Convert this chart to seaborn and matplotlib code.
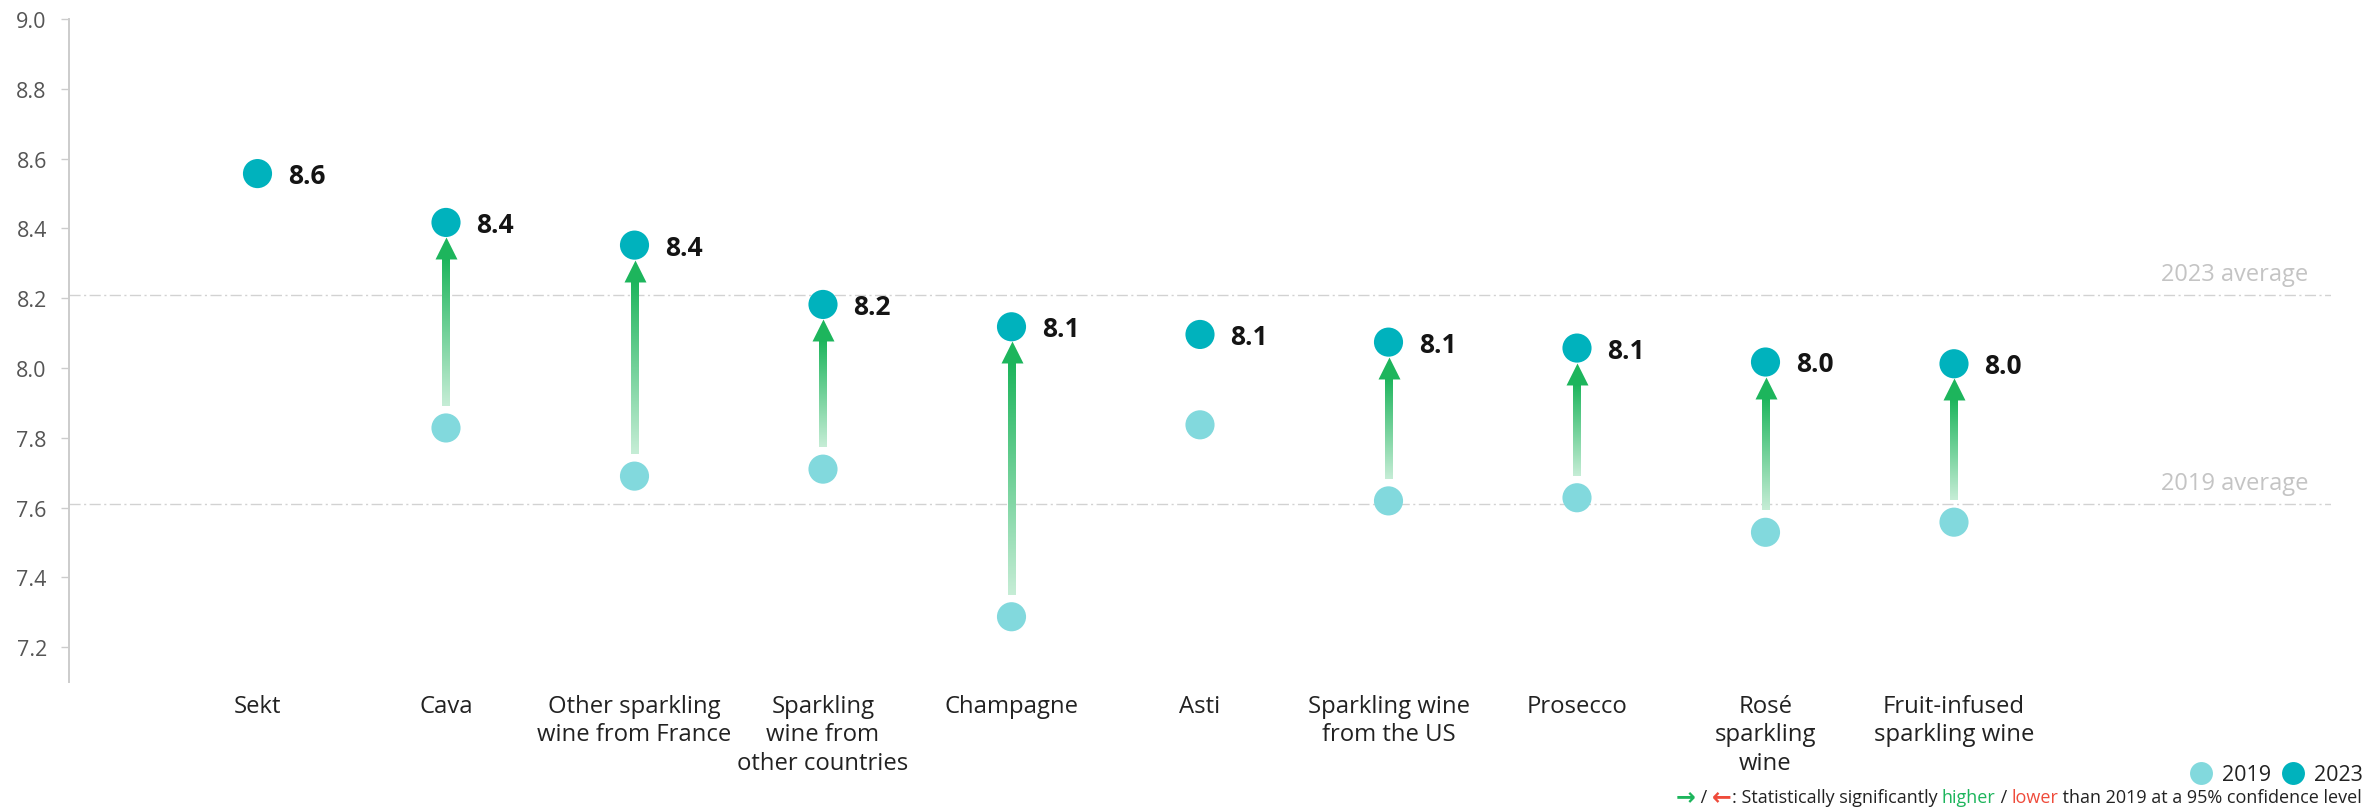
import numpy as np
import pandas as pd
import matplotlib
matplotlib.use("Agg")
import matplotlib.pyplot as plt
import matplotlib.colors as mcolors
from matplotlib.lines import Line2D
import seaborn as sns

# ---- data -------------------------------------------------------------
categories = [
    "Sekt",
    "Cava",
    "Other sparkling\nwine from France",
    "Sparkling\nwine from\nother countries",
    "Champagne",
    "Asti",
    "Sparkling wine\nfrom the US",
    "Prosecco",
    "Rosé\nsparkling\nwine",
    "Fruit-infused\nsparkling wine",
]
score_2019 = [np.nan, 7.828, 7.690, 7.710, 7.287, 7.837, 7.619, 7.628, 7.529, 7.558]
score_2023 = [8.557, 8.417, 8.352, 8.182, 8.118, 8.096, 8.074, 8.057, 8.017, 8.012]
significant = [False, True, True, True, True, False, True, True, True, True]
avg_2019 = 7.61
avg_2023 = 8.21
y_ticks = [7.2, 7.4, 7.6, 7.8, 8.0, 8.2, 8.4, 8.6, 8.8, 9.0]
years = ["2019", "2023"]

# ---- style ------------------------------------------------------------
C2019 = "#82D9DD"
C2023 = "#00B2BD"
GREEN = "#1DB55C"
GREEN_LIGHT = "#C6EDD6"
RED = "#EF4B3B"
GREY_LINE = "#D2D2D2"
DARK = "#222222"

sns.set_theme(style="white")
plt.rcParams["font.family"] = ["Open Sans", "DejaVu Sans"]

W, H = 2364, 812
fig = plt.figure(figsize=(W / 100, H / 100), dpi=100)
ax = fig.add_axes([69 / W, 1 - 683 / H, 2262 / W, 663 / H])

y_min, y_max = 7.1, 9.0
x_min, x_max = -1, 11

# long-format table for seaborn
df = pd.DataFrame({
    "category": categories * 2,
    "year": [years[1]] * len(categories) + [years[0]] * len(categories),
    "score": score_2023 + score_2019,
})
df = df.dropna().reset_index(drop=True)
df["category"] = pd.Categorical(df["category"], categories=categories, ordered=True)
df = df.sort_values(["category", "year"], kind="stable")
df["pos"] = df["category"].cat.codes

sns.scatterplot(
    data=df, x="pos", y="score", hue="year",
    palette={"2019": C2019, "2023": C2023},
    s=440, edgecolor="none", linewidth=0, legend=False, ax=ax, zorder=4,
)

ax.set_xlim(x_min, x_max)
ax.set_ylim(y_min, y_max)

px_y = ax.bbox.height / (y_max - y_min)   # pixels per data unit (y)
px_x = ax.bbox.width / (x_max - x_min)    # pixels per data unit (x)

# ---- change arrows with a fading shaft ---------------------------------
tri_up = [(-1, -1), (1, -1), (0, 1), (-1, -1)]
tri_down = [(-1, 1), (1, 1), (0, -1), (-1, 1)]
for i, (lo, hi, sig) in enumerate(zip(score_2019, score_2023, significant)):
    if not sig or np.isnan(lo):
        continue
    up = hi > lo
    sgn = 1 if up else -1
    strong = GREEN if up else RED
    light = GREEN_LIGHT if up else "#F8C9C4"
    tail = lo + sgn * 22 / px_y
    base = hi - sgn * 37 / px_y
    tip = hi - sgn * 14 / px_y
    grad = np.linspace(0, 1, 200)[:, None]
    c0 = np.array(mcolors.to_rgb(light))
    c1 = np.array(mcolors.to_rgb(strong))
    img = (c0 + (c1 - c0) * grad)[:, None, :]
    hw = 3.8 / px_x
    y0, y1 = (tail, base + sgn * 1 / px_y)
    ax.imshow(
        img if up else img[::-1],
        extent=(i - hw, i + hw, min(y0, y1), max(y0, y1)),
        origin="lower", aspect="auto", interpolation="bilinear", zorder=2,
    )
    ax.scatter([i], [(tip + base) / 2], marker=tri_up if up else tri_down,
               s=15.8 ** 2, color=strong, linewidths=0, zorder=3)

ax.set_xlim(x_min, x_max)
ax.set_ylim(y_min, y_max)

# ---- value labels -----------------------------------------------------
for i, v in enumerate(score_2023):
    ax.annotate(f"{v:.1f}", xy=(i, v), xytext=(22, -6.8), textcoords="offset points",
                ha="left", va="baseline", fontsize=19, fontweight="bold", color="#141414")

# ---- average reference lines -------------------------------------------
for val, label in [(avg_2023, "2023 average"), (avg_2019, "2019 average")]:
    ax.axhline(val, color=GREY_LINE, lw=1.0, ls=(0, (8, 2.5, 1.5, 2.5)), zorder=1)
    ax.annotate(label, xy=(1, val), xycoords=("axes fraction", "data"),
                xytext=(-16.5, 10.8), textcoords="offset points",
                ha="right", va="baseline", fontsize=17, color="#C4C4C4")

# ---- axes styling -------------------------------------------------------
sns.despine(ax=ax, bottom=True)
ax.spines["left"].set_color("#CCCCCC")
ax.spines["left"].set_linewidth(1.4)
ax.set_xticks(range(len(categories)))
ax.set_xticklabels(categories)
ax.set_yticks(y_ticks)
ax.set_yticklabels([f"{t:.1f}" for t in y_ticks])
ax.tick_params(axis="y", length=5.5, width=1, color="#CCCCCC", pad=10.5,
               labelsize=15.5, labelcolor="#555555", left=True)
ax.tick_params(axis="x", length=0, pad=8.5, labelsize=17.2, labelcolor=DARK)
for lab in ax.get_xticklabels():
    lab.set_linespacing(1.25)
ax.set_xlabel("")
ax.set_ylabel("")
ax.grid(False)

# ---- legend -------------------------------------------------------------
handles = [
    Line2D([], [], ls="none", marker="o", ms=16.5, mfc=C2019, mec="none"),
    Line2D([], [], ls="none", marker="o", ms=16.5, mfc=C2023, mec="none"),
]
leg = fig.legend(handles, years, loc="center right", bbox_to_anchor=(0.9995, 1 - 776 / H),
                 ncol=2, frameon=False, fontsize=15.5, handlelength=1.0,
                 handletextpad=0.45, columnspacing=0.55, borderpad=0, borderaxespad=0)
for t in leg.get_texts():
    t.set_color(DARK)

# ---- footnote with coloured parts (laid out right to left) -------------
parts = [
    ("→", GREEN, "bold", ["DejaVu Sans"], 17),
    (" / ", DARK, "normal", None, 13),
    ("←", RED, "bold", ["DejaVu Sans"], 17),
    (": Statistically significantly ", DARK, "normal", None, 13),
    ("higher", GREEN, "normal", None, 13),
    (" / ", DARK, "normal", None, 13),
    ("lower", RED, "normal", None, 13),
    (" than 2019 at a 95% confidence level", DARK, "normal", None, 13),
]
renderer = fig.canvas.get_renderer()
x_right = 2362.0
y_base = H - 803
for text, color, weight, fam, size in reversed(parts):
    kw = dict(color=color, fontweight=weight, fontsize=size, ha="right", va="baseline",
              transform=None)
    if fam:
        kw["family"] = fam
    t = fig.text(x_right, y_base if not fam else y_base - 1, text, **kw)
    bb = t.get_window_extent(renderer)
    x_right = bb.x0

fig.savefig("out.png", dpi=100)
